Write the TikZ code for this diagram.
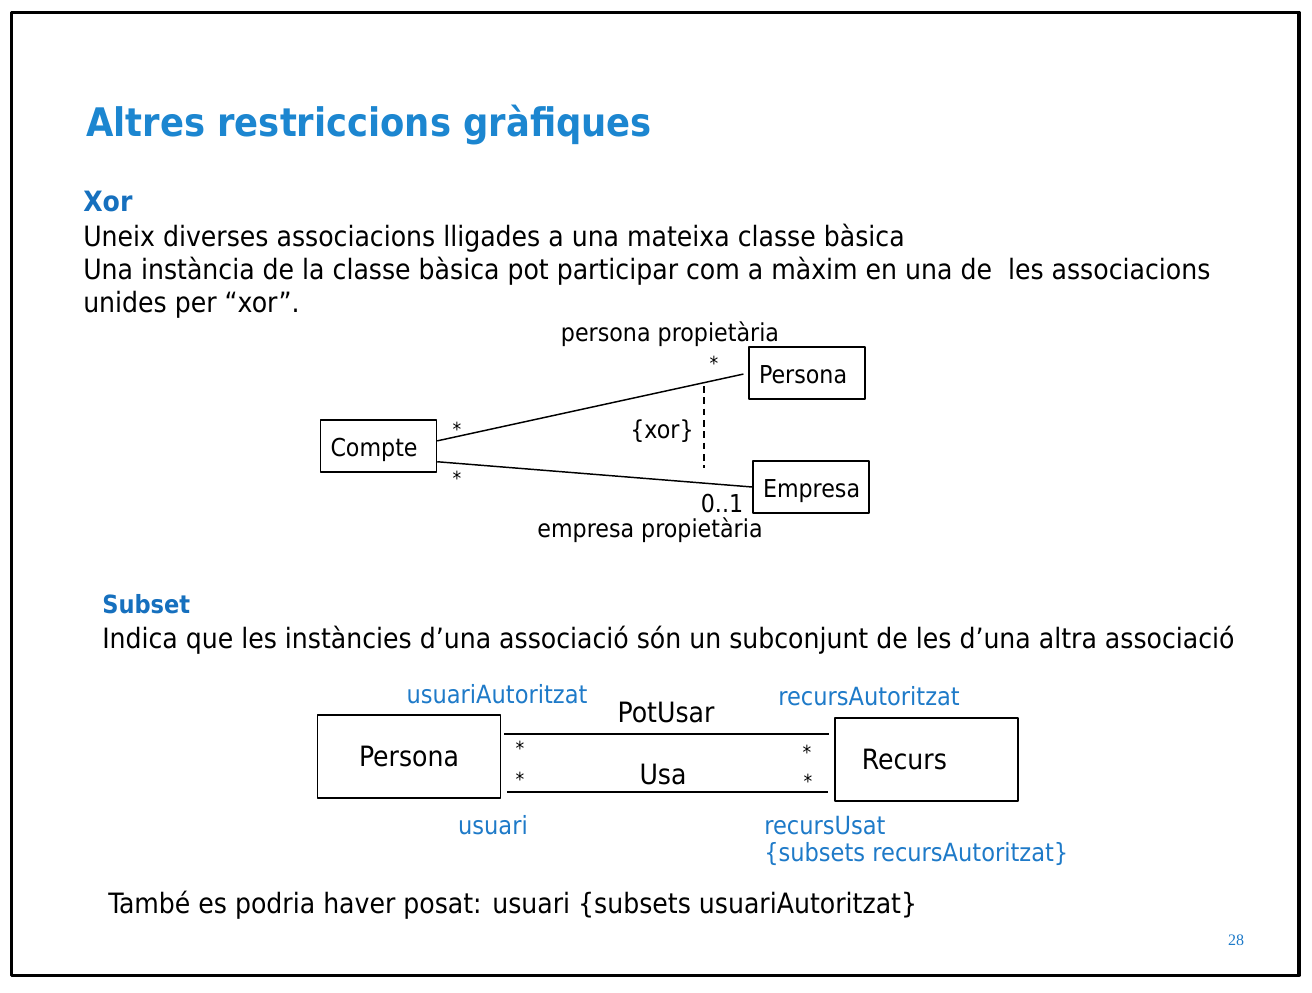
\documentclass[tikz,border=0pt]{standalone}
\usepackage{fontspec}
\setmainfont{DejaVu Sans Condensed}
\newfontfamily\numfont{Liberation Serif}
\usetikzlibrary{positioning}
\definecolor{titleblue}{RGB}{28,134,208}
\definecolor{headblue}{RGB}{22,112,190}
\definecolor{roleblue}{RGB}{30,122,200}
\newcommand\titlesize{\fontsize{29.5}{35}\selectfont\bfseries}
\newcommand\headsize{\fontsize{21}{25}\selectfont\bfseries}
\newcommand\subheadsize{\fontsize{18.8}{23}\selectfont\bfseries}
\newcommand\bodysize{\fontsize{21}{25}\selectfont}
\newcommand\diagsize{\fontsize{18.5}{22}\selectfont}
\newcommand\rolesize{\fontsize{18.8}{22}\selectfont}
\newcommand\bigsize{\fontsize{21}{25}\selectfont}
\begin{document}
\begin{tikzpicture}[x=0.75pt,y=-0.75pt,line join=round,
	txt/.style={inner sep=0pt,anchor=base west},
	ctxt/.style={inner sep=0pt,anchor=base},
	mult/.style={inner sep=0pt,font=\fontsize{14.5}{16}\selectfont},
	cls/.style={draw,line width=1.1pt,minimum width=87pt,minimum height=39pt,
		text width=72pt,inner xsep=6pt,align=left,font=\diagsize,
		text height=15pt,text depth=0pt},
	bigcls/.style={draw,line width=1.1pt,minimum width=137pt,minimum height=62pt,
		align=center,font=\bigsize},
	assoc/.style={line width=1.1pt}]
	\useasboundingbox (0,0) rectangle (1312,992);
	\draw[line width=2.3pt] (11.5,12.5) rectangle (1299,975.5);
	% title and text
	\node[txt,font=\titlesize,text=titleblue] (Title) at (86,136) {Altres restriccions gràfiques};
	\node[txt,font=\headsize,text=headblue] (Xor) at (83,211) {Xor};
	\node[txt,font=\bodysize] (L1) at (83,246) {Uneix diverses associacions lligades a una mateixa classe bàsica};
	\node[txt,font=\bodysize] (L2) at (83,279) {Una instància de la classe bàsica pot participar com a màxim en una de \ les associacions};
	\node[txt,font=\bodysize] (L3) at (83,312) {unides per “xor”.};
	\node[txt,font=\subheadsize,text=headblue] (Subset) at (102,613) {Subset};
	\node[txt,font=\bodysize] (L4) at (102,648) {Indica que les instàncies d’una associació són un subconjunt de les d’una altra associació};
	\node[txt,font=\bodysize] (L5) at (108,913) {També es podria haver posat: usuari \{subsets usuariAutoritzat\}};
	\node[ctxt,font=\numfont\fontsize{12}{14}\selectfont,text=roleblue] (Num) at (1236,945) {28};
	% xor
	\node[cls] (Compte) at (378.5,446) {Compte};
	\node[cls] (Persona) at (807,373) {Persona};
	\node[cls] (Empresa) at (811,487) {Empresa};
	\draw[assoc,shorten >=3.75pt] (Compte.5) -- (Persona.west);
	\draw[assoc] (Compte.-15) -- (Empresa.west);
	\path (704,386) coordinate (X1) (704,468) coordinate (X2);
	\draw[line width=0.9pt,dash pattern=on 5pt off 3.5pt] (X1) -- (X2);
	\node[ctxt,font=\diagsize] (RolP) at (670,341) {persona propietària};
	\node[ctxt,font=\diagsize] (RolE) at (650,537) {empresa propietària};
	\node[ctxt,font=\diagsize] (Xr) at (662,438) {\{xor\}};
	\node[ctxt,font=\diagsize] (Card) at (722,512) {0..1};
	% subset
	\node[bigcls] (PersonaS) at (409,756.5) {Persona};
	\node[bigcls,text width=97pt,align=left,text height=15pt,text depth=0pt] (Recurs) at (926.5,759.5) {Recurs};
	\coordinate (P1) at ([shift={(3,-22.5)}]PersonaS.east);
	\coordinate (U1) at ([shift={(6,35.5)}]PersonaS.east);
	\draw[assoc,shorten >=3.75pt] (P1) -- (P1 -| Recurs.west);
	\draw[assoc,shorten >=4.5pt] (U1) -- (U1 -| Recurs.west);
	\node[ctxt,font=\bigsize] (PotUsar) at (666,722) {PotUsar};
	\node[ctxt,font=\bigsize] (Usa) at (663,784) {Usa};
	\node[ctxt,font=\rolesize,text=roleblue] (RA) at (497,703) {usuariAutoritzat};
	\node[ctxt,font=\rolesize,text=roleblue] (RR) at (869,705) {recursAutoritzat};
	\node[ctxt,font=\rolesize,text=roleblue] (RU) at (493,834) {usuari};
	\node[txt,font=\rolesize,text=roleblue] (RS) at (764,834) {recursUsat};
	\node[txt,font=\rolesize,text=roleblue] (RS2) at (764,861) {\{subsets recursAutoritzat\}};
	\foreach \x/\y [count=\i] in {457/429,457/478,714/363,520/748,520/779,807/752,808/781}
		\node[mult] (m\i) at (\x,\y) {*};
\end{tikzpicture}
\end{document}
